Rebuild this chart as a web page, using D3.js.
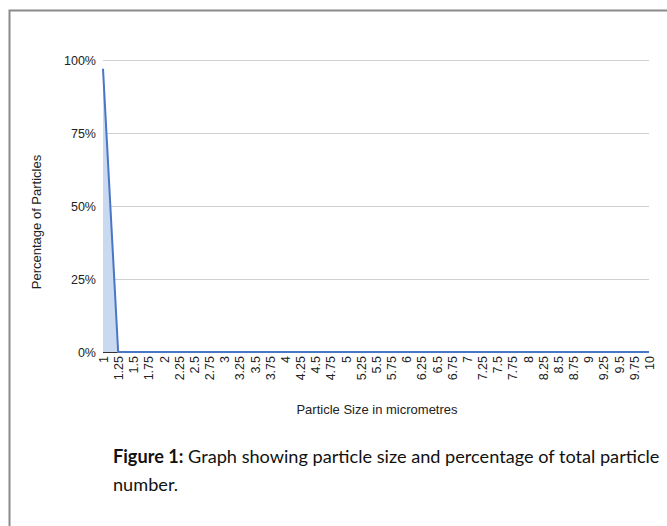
<!DOCTYPE html>
<html><head><meta charset="utf-8">
<script src="https://cdn.jsdelivr.net/npm/d3@7/dist/d3.min.js"></script>
<style>html,body{margin:0;padding:0;background:#fff;}svg{display:block;}</style>
</head><body>
<svg id="c" width="667" height="526"></svg>
<script>
const sizes = ["1","1.25","1.5","1.75","2","2.25","2.5","2.75","3","3.25","3.5","3.75","4","4.25","4.5","4.75","5","5.25","5.5","5.75","6","6.25","6.5","6.75","7","7.25","7.5","7.75","8","8.25","8.5","8.75","9","9.25","9.5","9.75","10"];
const percentages = [97,0,0,0,0,0,0,0,0,0,0,0,0,0,0,0,0,0,0,0,0,0,0,0,0,0,0,0,0,0,0,0,0,0,0,0,0];
const yTicks = [0,25,50,75,100];

const FONT = "Liberation Sans, Arial, sans-serif";
const svg = d3.select("#c");
svg.append("path").attr("d","M9.5,526 L9.5,10.5 L667,10.5").attr("fill","none").attr("stroke","#8a8a8a").attr("stroke-width",2);

const m = {l:103, r:649, t:60, b:352};
const x = d3.scalePoint().domain(sizes).range([m.l, m.r]);
const y = d3.scaleLinear().domain([0,100]).range([m.b, m.t]);

svg.append("g").selectAll("line").data(yTicks.filter(d=>d>0)).join("line")
  .attr("x1",m.l).attr("x2",m.r).attr("y1",d=>y(d)+0.5).attr("y2",d=>y(d)+0.5)
  .attr("stroke","#d0d0d0").attr("stroke-width",1);

const ya = svg.append("g").attr("transform",`translate(${m.l},0)`)
  .call(d3.axisLeft(y).tickValues(yTicks).tickFormat(d=>d+"%").tickSize(0).tickPadding(7));
ya.select(".domain").remove();
ya.selectAll("text").attr("font-family",FONT).attr("font-size",12.5).attr("fill","#222");

const data = sizes.map((s,i)=>({s, v:percentages[i]}));
svg.append("path").datum(data)
  .attr("d", d3.area().x(d=>x(d.s)).y0(y(0)).y1(d=>y(d.v)))
  .attr("fill","#c8d9f0");
svg.append("line").attr("x1",m.l).attr("x2",m.r).attr("y1",m.b+0.5).attr("y2",m.b+0.5).attr("stroke","#333").attr("stroke-width",1);
svg.append("path").datum(data)
  .attr("d", d3.line().x(d=>x(d.s)).y(d=>y(d.v)))
  .attr("fill","none").attr("stroke","#4a76c6").attr("stroke-width",2);

const xa = svg.append("g").attr("transform",`translate(0,${m.b})`)
  .call(d3.axisBottom(x).tickSize(0).tickPadding(0));
xa.select(".domain").remove();
xa.selectAll("text")
  .attr("font-family",FONT).attr("font-size",12.5).attr("fill","#222")
  .attr("transform","rotate(-90)").attr("text-anchor","end")
  .attr("x",-4).attr("y",0).attr("dy","0.35em");

svg.append("text").attr("transform",`translate(41,222) rotate(-90)`).attr("text-anchor","middle")
  .attr("font-family",FONT).attr("font-size",13).attr("fill","#222")
  .text("Percentage of Particles");
svg.append("text").attr("x",377).attr("y",414).attr("text-anchor","middle")
  .attr("font-family",FONT).attr("font-size",13).attr("fill","#222")
  .text("Particle Size in micrometres");

const cap = svg.append("text").attr("x",113).attr("y",463)
  .attr("font-family","Lato, 'Open Sans', sans-serif").attr("font-size",18).attr("fill","#111");
cap.append("tspan").attr("font-weight","bold").text("Figure 1:");
cap.append("tspan").text(" Graph showing particle size and percentage of total particle");
const w = cap.node().getComputedTextLength();
const fs = 18 * 547 / w;
cap.attr("font-size", fs);
svg.append("text").attr("x",113).attr("y",491)
  .attr("font-family","Lato, 'Open Sans', sans-serif").attr("font-size",fs).attr("fill","#111")
  .text("number.");
</script>
</body></html>
